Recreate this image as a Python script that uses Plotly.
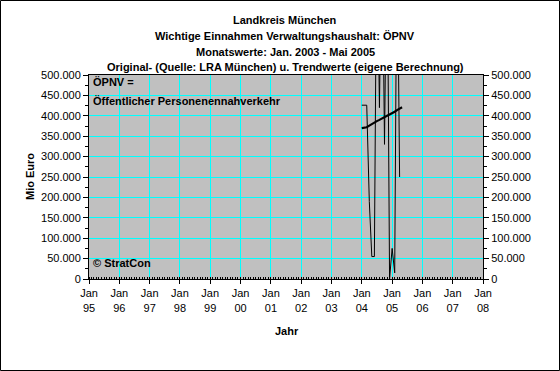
import plotly.graph_objects as go

# ---- data ----
months = ["2004-01-01", "2004-02-01", "2004-03-01", "2004-04-01", "2004-05-01", "2004-06-01",
          "2004-07-01", "2004-08-01", "2004-09-01", "2004-10-01", "2004-11-01", "2004-12-01",
          "2005-01-01", "2005-02-01", "2005-03-01", "2005-04-01", "2005-05-01"]
original = [426000, 426000, 426000, 190000, 55000, 55000,
            900000, 420000, 900000, 330000, 900000, 0,
            75000, 15000, 900000, 250000, None]
trend = [370000, 371000, 372000, 376000, 380000, 383000,
         387000, 390000, 394000, 397000, 400000, 403000,
         406000, 410000, 414000, 417000, 421000]

year_ticks = [f"{y}-01-01" for y in range(1995, 2009)]
year_labels = [f"Jan<br>{str(y)[2:]}" for y in range(1995, 2009)]

title_lines = ["Landkreis München",
               "Wichtige Einnahmen Verwaltungshaushalt: ÖPNV",
               "Monatswerte: Jan. 2003 - Mai 2005",
               "Original- (Quelle: LRA München) u. Trendwerte (eigene Berechnung)"]

# ---- layout geometry (pixels) ----
W, H = 560, 371
L, R, T, B = 89, 77, 75, 92
PW, PH = W - L - R, H - T - B

def px_x(x):
    return (x - L) / PW

def px_y(y):
    return (H - B - y) / PH

FONT = "Liberation Sans, Arial, sans-serif"

fig = go.Figure()
fig.add_trace(go.Scatter(x=months, y=original, mode="lines",
                         line=dict(color="black", width=1), showlegend=False,
                         connectgaps=False, hoverinfo="skip"))
fig.add_trace(go.Scatter(x=months, y=trend, mode="lines",
                         line=dict(color="black", width=2.2), showlegend=False,
                         hoverinfo="skip"))
# invisible trace on right axis so it renders
fig.add_trace(go.Scatter(x=months[:1], y=[0], yaxis="y2", mode="markers",
                         marker=dict(opacity=0), showlegend=False, hoverinfo="skip"))

yaxis_common = dict(range=[0, 500000], tickvals=list(range(0, 500001, 50000)),
                    tickformat=",d", ticks="outside", ticklen=5, tickcolor="black",
                    showline=True, linecolor="black", linewidth=1,
                    tickfont=dict(family=FONT, size=11, color="black"),
                    minor=dict(ticks="outside", ticklen=3, tickcolor="black", dtick=25000,
                               showgrid=False),
                    zeroline=False, fixedrange=True)

fig.update_layout(
    width=W, height=H,
    margin=dict(l=L, r=R, t=T, b=B, pad=0),
    paper_bgcolor="white", plot_bgcolor="#C0C0C0",
    separators=",.",
    font=dict(family=FONT, size=11, color="black"),
    xaxis=dict(type="date", range=["1995-01-01", "2008-01-01"],
               tickvals=year_ticks, ticktext=year_labels,
               ticks="outside", ticklen=4, tickcolor="black",
               showgrid=True, gridcolor="#00FFFF", gridwidth=1,
               showline=True, linecolor="black", linewidth=1, mirror=True,
               tickfont=dict(family=FONT, size=11, color="black"),
               minor=dict(ticks="inside", ticklen=2, tickcolor="black", dtick="M1",
                          showgrid=False),
               zeroline=False, fixedrange=True),
    yaxis=dict(**yaxis_common, showgrid=True, gridcolor="#00FFFF", gridwidth=1, side="left"),
    yaxis2=dict(**yaxis_common, showgrid=False, side="right", overlaying="y"),
    showlegend=False,
)

annotations = []
for i, (line, ypix) in enumerate(zip(title_lines, [20, 36, 52, 67])):
    annotations.append(dict(text=f"<b>{line}</b>", x=px_x(285), y=px_y(ypix),
                            xref="paper", yref="paper", xanchor="center", yanchor="middle",
                            showarrow=False, font=dict(family=FONT, size=11, color="black")))
annotations += [
    dict(text="<b>Mio Euro</b>", x=px_x(30), y=px_y(177), xref="paper", yref="paper",
         textangle=-90, showarrow=False, xanchor="center", yanchor="middle",
         font=dict(family=FONT, size=11, color="black")),
    dict(text="<b>Jahr</b>", x=px_x(287), y=px_y(331), xref="paper", yref="paper",
         showarrow=False, xanchor="center", yanchor="middle",
         font=dict(family=FONT, size=11, color="black")),
    dict(text="<b>ÖPNV =</b>", x=px_x(91), y=px_y(82), xref="paper", yref="paper",
         showarrow=False, xanchor="left", yanchor="middle",
         font=dict(family=FONT, size=11, color="black")),
    dict(text="<b>Öffentlicher Personenennahverkehr</b>", x=px_x(91), y=px_y(101),
         xref="paper", yref="paper", showarrow=False, xanchor="left", yanchor="middle",
         font=dict(family=FONT, size=11, color="black")),
    dict(text="<b>© StratCon</b>", x=px_x(91), y=px_y(263), xref="paper", yref="paper",
         showarrow=False, xanchor="left", yanchor="middle",
         font=dict(family=FONT, size=11, color="black")),
]
fig.update_layout(annotations=annotations)

# outer frame
fig.add_shape(type="rect", xref="paper", yref="paper",
              x0=px_x(0.5), x1=px_x(W - 0.5), y0=px_y(H - 0.5), y1=px_y(0.5),
              line=dict(color="black", width=1), fillcolor="rgba(0,0,0,0)", layer="above")

fig.write_html("out.html", config={"displayModeBar": False},
               post_script="document.body.style.margin='0';document.body.style.padding='0';document.body.style.overflow='hidden';")
